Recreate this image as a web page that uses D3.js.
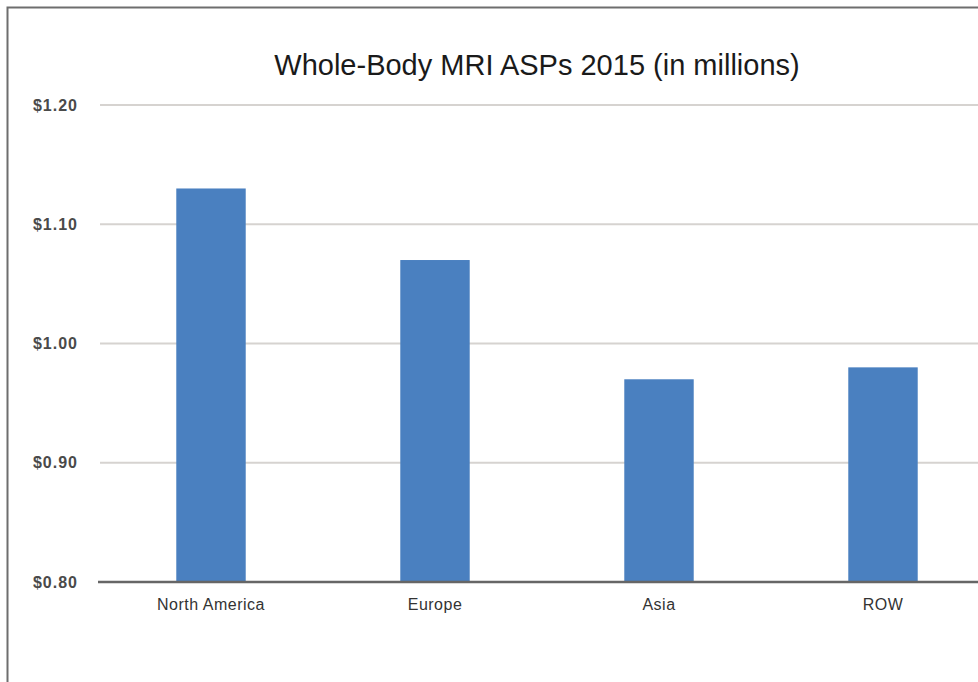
<!DOCTYPE html>
<html>
<head>
<meta charset="utf-8">
<script src="https://cdn.jsdelivr.net/npm/d3@7"></script>
<style>
  body { margin: 0; background: #fff; }
  svg { display: block; font-family: "Liberation Sans", Arial, sans-serif; }
</style>
</head>
<body>
<svg id="chart"></svg>
<script>
const regions = ['North America', 'Europe', 'Asia', 'ROW'];
const asp = [1.13, 1.07, 0.97, 0.98];
const yTicks = [0.8, 0.9, 1.0, 1.1, 1.2];

const width = 978, height = 682;
const svg = d3.select('#chart').attr('width', width).attr('height', height);

// outer frame (cropped on right and bottom)
svg.append('path')
    .attr('d', `M7.5,${height} V7.5 H${width}`)
    .attr('fill', 'none')
    .attr('stroke', '#6e6e6e')
    .attr('stroke-width', 2);

const x = d3.scaleBand()
    .domain(regions)
    .range([99, 995])
    .paddingInner(0.69)
    .paddingOuter(0.345);

const y = d3.scaleLinear()
    .domain([0.8, 1.2])
    .range([582, 105]);

// gridlines
svg.append('g')
    .selectAll('line')
    .data(yTicks.filter(d => d > 0.8))
    .join('line')
    .attr('x1', 100)
    .attr('x2', width)
    .attr('y1', d => y(d))
    .attr('y2', d => y(d))
    .attr('stroke', '#d6d3d0')
    .attr('stroke-width', 2);

// y labels
svg.append('g')
    .selectAll('text')
    .data(yTicks)
    .join('text')
    .attr('x', 78)
    .attr('y', d => y(d))
    .attr('dy', '0.35em')
    .attr('text-anchor', 'end')
    .attr('fill', '#4a4a4a')
    .style('font-size', '16px')
    .style('font-weight', 'bold')
    .style('letter-spacing', '1px')
    .text(d => '$' + d.toFixed(2));

// bars
svg.append('g')
    .selectAll('rect')
    .data(asp)
    .join('rect')
    .attr('x', (d, i) => x(regions[i]))
    .attr('width', x.bandwidth())
    .attr('y', d => y(d))
    .attr('height', d => y(0.8) - y(d))
    .attr('fill', '#4a80c0');

// baseline
svg.append('line')
    .attr('x1', 98)
    .attr('x2', width)
    .attr('y1', y(0.8))
    .attr('y2', y(0.8))
    .attr('stroke', '#666')
    .attr('stroke-width', 2.5);

// category labels
svg.append('g')
    .selectAll('text')
    .data(regions)
    .join('text')
    .attr('x', d => x(d) + x.bandwidth() / 2)
    .attr('y', 610)
    .attr('text-anchor', 'middle')
    .attr('fill', '#333')
    .style('font-size', '16px')
    .style('letter-spacing', '0.5px')
    .text(d => d);

// title
svg.append('text')
    .attr('x', 537)
    .attr('y', 75)
    .attr('text-anchor', 'middle')
    .attr('fill', '#1a1a1a')
    .style('font-size', '29px')
    .text('Whole-Body MRI ASPs 2015 (in millions)');
</script>
</body>
</html>
